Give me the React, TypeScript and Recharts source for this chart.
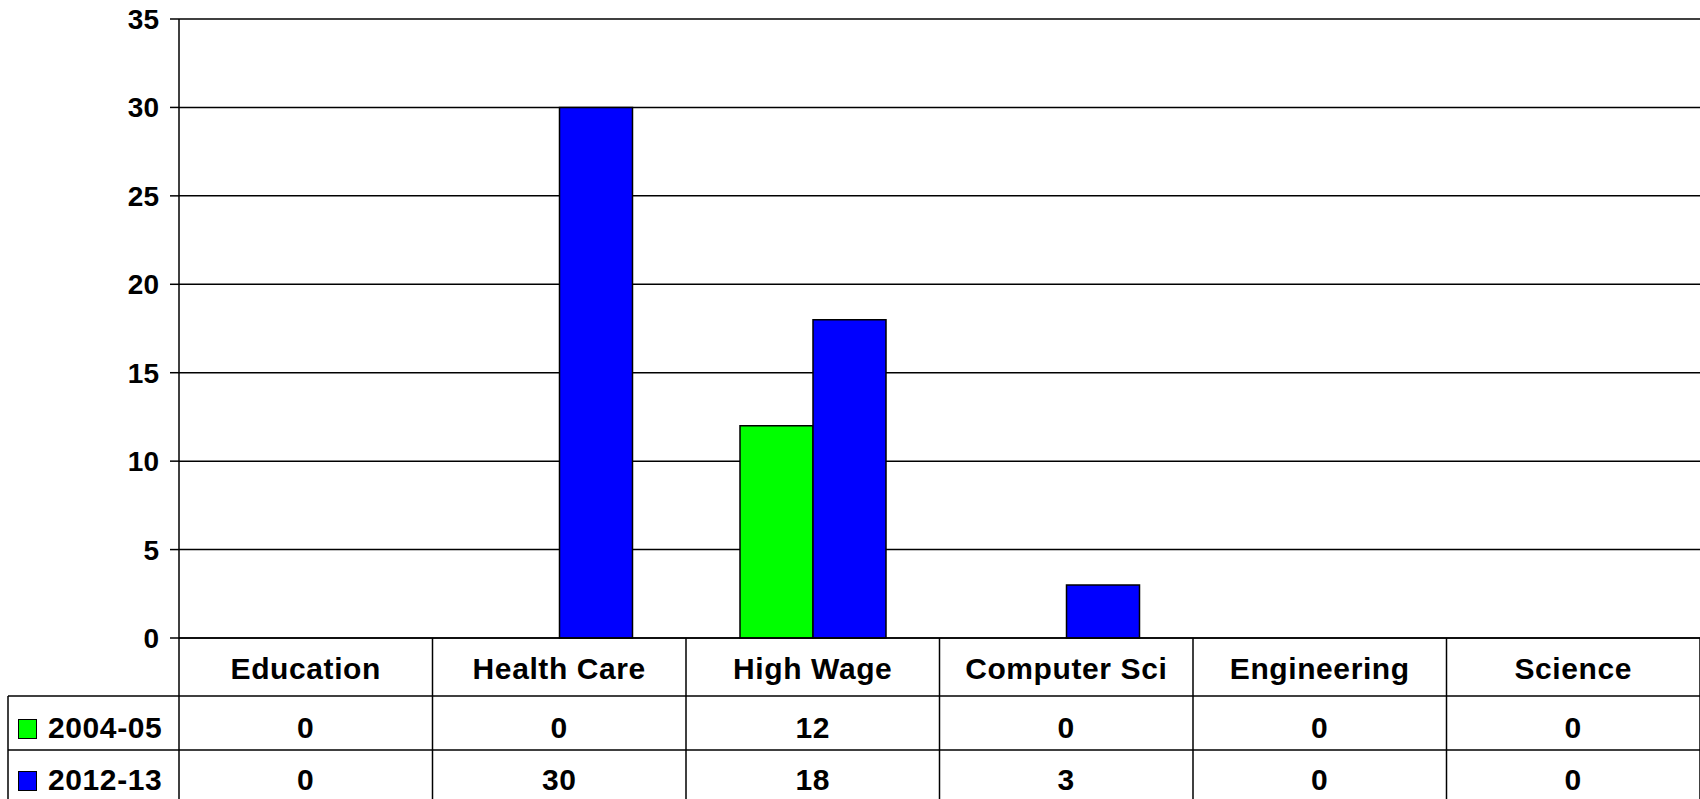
import React from 'react';
import { BarChart, Bar, XAxis, YAxis, CartesianGrid } from 'recharts';

const categories = ['Education', 'Health Care', 'High Wage', 'Computer Sci', 'Engineering', 'Science'];
const series2004 = [0, 0, 12, 0, 0, 0];
const series2012 = [0, 30, 18, 3, 0, 0];
const yTicks = [0, 5, 10, 15, 20, 25, 30, 35];

const GREEN = '#00FF00';
const BLUE = '#0000FF';
const FONT = '"Liberation Sans", Arial, Helvetica, sans-serif';

const W = 1700;
const H = 799;
const PLOT_LEFT = 179;
const PLOT_TOP = 19;
const AXIS_Y = 638;
const ROW1 = 696;
const ROW2 = 750;
const BAND = (W - PLOT_LEFT) / categories.length;

const data = categories.map((name, i) => ({
  name,
  y2004: series2004[i],
  y2012: series2012[i],
}));

const cellText = {
  fontFamily: FONT,
  fontWeight: 'bold' as const,
  fontSize: 30,
  letterSpacing: 0.6,
  fill: '#000',
};

function TableTick(props: any) {
  const { x, payload, index } = props;
  const left = x - BAND / 2;
  const right = x + BAND / 2;
  return (
    <g>
      <line x1={right} y1={AXIS_Y} x2={right} y2={H} stroke="#000" strokeWidth={1.5} />
      <line x1={left} y1={ROW1} x2={right} y2={ROW1} stroke="#000" strokeWidth={1.5} />
      <line x1={left} y1={ROW2} x2={right} y2={ROW2} stroke="#000" strokeWidth={1.5} />
      <text x={x} y={679} textAnchor="middle" {...cellText}>{payload.value}</text>
      <text x={x} y={738} textAnchor="middle" {...cellText}>{series2004[index]}</text>
      <text x={x} y={790} textAnchor="middle" {...cellText}>{series2012[index]}</text>
    </g>
  );
}

export default function App() {
  document.body.style.margin = '0';
  document.body.style.overflow = 'hidden';
  return (
    <div style={{ position: 'relative', width: W, height: H, background: '#fff' }}>
      <BarChart
        width={W}
        height={H}
        data={data}
        margin={{ top: PLOT_TOP, right: 0, left: 0, bottom: 0 }}
        barGap={0}
        barSize={73}
      >
        <CartesianGrid vertical={false} stroke="#000" strokeWidth={1.5} />
        <XAxis
          dataKey="name"
          height={H - AXIS_Y}
          axisLine={{ stroke: '#000', strokeWidth: 1.5 }}
          tickLine={false}
          tick={<TableTick />}
          interval={0}
        />
        <YAxis
          width={PLOT_LEFT}
          domain={[0, 35]}
          ticks={yTicks}
          interval={0}
          axisLine={{ stroke: '#000', strokeWidth: 1.5 }}
          tickLine={{ stroke: '#000', strokeWidth: 1.5 }}
          tickSize={9}
          tickMargin={11}
          tick={{ fontFamily: FONT, fontWeight: 'bold', fontSize: 28, fill: '#000' }}
        />
        <Bar dataKey="y2004" fill={GREEN} stroke="#000" strokeWidth={1.5} isAnimationActive={false} />
        <Bar dataKey="y2012" fill={BLUE} stroke="#000" strokeWidth={1.5} isAnimationActive={false} />
      </BarChart>
      <svg width={W} height={H} style={{ position: 'absolute', left: 0, top: 0, pointerEvents: 'none' }}>
        <line x1={PLOT_LEFT} y1={AXIS_Y} x2={PLOT_LEFT} y2={H} stroke="#000" strokeWidth={1.5} />
        <line x1={8} y1={ROW1} x2={8} y2={H} stroke="#000" strokeWidth={1.5} />
        <line x1={8} y1={ROW1} x2={PLOT_LEFT} y2={ROW1} stroke="#000" strokeWidth={1.5} />
        <line x1={8} y1={ROW2} x2={PLOT_LEFT} y2={ROW2} stroke="#000" strokeWidth={1.5} />
        <rect x={18.5} y={719.5} width={18} height={19} fill={GREEN} stroke="#000" strokeWidth={1} />
        <text x={48} y={738} {...cellText}>2004-05</text>
        <rect x={18.5} y={771.5} width={18} height={19} fill={BLUE} stroke="#000" strokeWidth={1} />
        <text x={48} y={790} {...cellText}>2012-13</text>
      </svg>
    </div>
  );
}
